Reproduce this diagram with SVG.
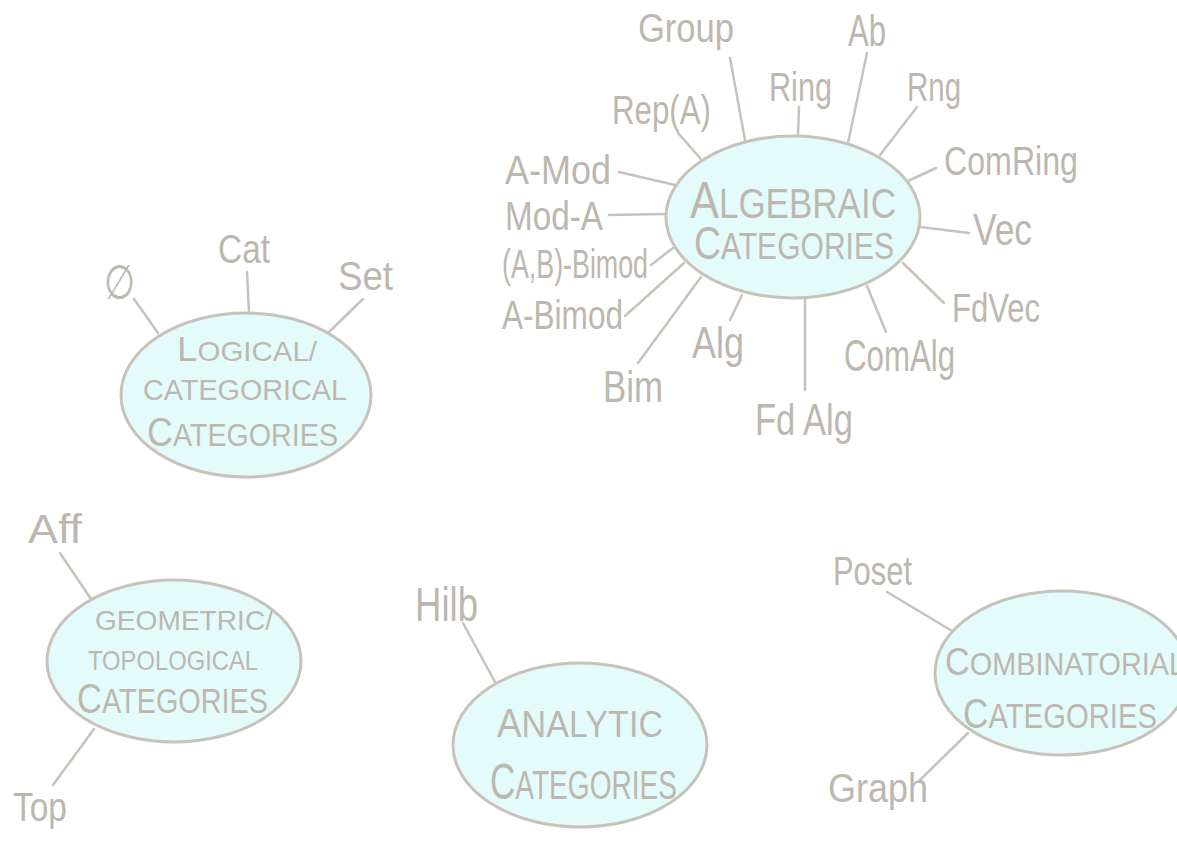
<svg xmlns="http://www.w3.org/2000/svg" width="1177" height="847" viewBox="0 0 1177 847">
  <style>
    .bg { fill: #ffffff; }
    .hub { fill: #e3fcfb; stroke: #c7c3bb; stroke-width: 3; }
    .edge { stroke: #c7c3bb; stroke-width: 2.5; stroke-linecap: round; fill: none; }
    .leaf { font-family: "Liberation Sans", "DejaVu Sans", sans-serif; font-size: 41px; fill: #bcb7af; }
    .cap { font-family: "Liberation Sans", "DejaVu Sans", sans-serif; font-size: 30px; fill: #bcb7af; }
  </style>
  <rect class="bg" x="0" y="0" width="1177" height="847"/>

  <!-- connectors: spokes from each hub to its member categories -->
  <g id="connectors">
    <!-- algebraic -->
    <line class="edge" x1="730" y1="58" x2="745" y2="140"/>
    <line class="edge" x1="799" y1="107" x2="798" y2="135"/>
    <line class="edge" x1="867" y1="53" x2="848" y2="143"/>
    <line class="edge" x1="917" y1="107" x2="880" y2="155"/>
    <line class="edge" x1="936" y1="168" x2="908" y2="181"/>
    <line class="edge" x1="969" y1="233" x2="920" y2="227"/>
    <line class="edge" x1="944" y1="303" x2="903" y2="263"/>
    <line class="edge" x1="886" y1="332" x2="867" y2="286"/>
    <line class="edge" x1="805" y1="390" x2="805" y2="299"/>
    <line class="edge" x1="730" y1="320" x2="742" y2="295"/>
    <line class="edge" x1="638" y1="363" x2="701" y2="277"/>
    <line class="edge" x1="625" y1="316" x2="684" y2="263"/>
    <line class="edge" x1="651" y1="265" x2="673" y2="248"/>
    <line class="edge" x1="609" y1="215" x2="666" y2="214"/>
    <line class="edge" x1="619" y1="172" x2="675" y2="185"/>
    <line class="edge" x1="678" y1="133" x2="701" y2="159"/>
    <!-- logical / categorical -->
    <line class="edge" x1="134" y1="299" x2="158" y2="333"/>
    <line class="edge" x1="247" y1="272" x2="249" y2="313"/>
    <line class="edge" x1="363" y1="299" x2="329" y2="332"/>
    <!-- geometric / topological -->
    <line class="edge" x1="60" y1="553" x2="91" y2="599"/>
    <line class="edge" x1="94" y1="729" x2="53" y2="785"/>
    <!-- analytic -->
    <line class="edge" x1="463" y1="623" x2="495" y2="682"/>
    <!-- combinatorial -->
    <line class="edge" x1="887" y1="592" x2="952" y2="631"/>
    <line class="edge" x1="920" y1="780" x2="968" y2="733"/>
  </g>

  <g id="algebraic">
    <ellipse class="hub" cx="793" cy="217" rx="127" ry="81"/>
    <text class="cap" x="690" y="218" textLength="206" lengthAdjust="spacingAndGlyphs" style="font-size:42px"><tspan style="font-size:52px">A</tspan>LGEBRAIC</text>
    <text class="cap" x="694" y="259" textLength="200" lengthAdjust="spacingAndGlyphs" style="font-size:37px"><tspan style="font-size:46px">C</tspan>ATEGORIES</text>
  </g>
  <g id="alg-leaves">
    <text class="leaf" x="638" y="42" textLength="96" lengthAdjust="spacingAndGlyphs">Group</text>
    <text class="leaf" x="848" y="46" textLength="38" lengthAdjust="spacingAndGlyphs" style="font-size:44px">Ab</text>
    <text class="leaf" x="769" y="101" textLength="63" lengthAdjust="spacingAndGlyphs">Ring</text>
    <text class="leaf" x="907" y="101" textLength="54" lengthAdjust="spacingAndGlyphs">Rng</text>
    <text class="leaf" x="612" y="124" textLength="99" lengthAdjust="spacingAndGlyphs">Rep(A)</text>
    <text class="leaf" x="944" y="175" textLength="134" lengthAdjust="spacingAndGlyphs">ComRing</text>
    <text class="leaf" x="505" y="184" textLength="106" lengthAdjust="spacingAndGlyphs">A-Mod</text>
    <text class="leaf" x="505" y="230" textLength="98" lengthAdjust="spacingAndGlyphs">Mod-A</text>
    <text class="leaf" x="973" y="245" textLength="59" lengthAdjust="spacingAndGlyphs" style="font-size:44px">Vec</text>
    <text class="leaf" x="502" y="278" textLength="146" lengthAdjust="spacingAndGlyphs">(A,B)-Bimod</text>
    <text class="leaf" x="502" y="329" textLength="121" lengthAdjust="spacingAndGlyphs">A-Bimod</text>
    <text class="leaf" x="952" y="322" textLength="88" lengthAdjust="spacingAndGlyphs">FdVec</text>
    <text class="leaf" x="844" y="371" textLength="111" lengthAdjust="spacingAndGlyphs" style="font-size:44px">ComAlg</text>
    <text class="leaf" x="692" y="358" textLength="52" lengthAdjust="spacingAndGlyphs" style="font-size:44px">Alg</text>
    <text class="leaf" x="603" y="402" textLength="60" lengthAdjust="spacingAndGlyphs" style="font-size:44px">Bim</text>
    <text class="leaf" x="755" y="435" textLength="98" lengthAdjust="spacingAndGlyphs" style="font-size:44px">Fd Alg</text>
  </g>

  <g id="logical">
    <ellipse class="hub" cx="246" cy="395" rx="125" ry="82"/>
    <text class="cap" x="177" y="361" textLength="140" lengthAdjust="spacingAndGlyphs" style="font-size:28px"><tspan style="font-size:35px">L</tspan>OGICAL/</text>
    <text class="cap" x="143" y="400" textLength="204" lengthAdjust="spacingAndGlyphs" style="font-size:30px">CATEGORICAL</text>
    <text class="cap" x="147" y="446" textLength="191" lengthAdjust="spacingAndGlyphs" style="font-size:32px"><tspan style="font-size:40px">C</tspan>ATEGORIES</text>
  </g>
  <g id="logical-leaves">
    <text class="leaf" x="104" y="299" textLength="31" lengthAdjust="spacingAndGlyphs" style="font-size:48px">∅</text>
    <text class="leaf" x="218" y="263" textLength="52" lengthAdjust="spacingAndGlyphs">Cat</text>
    <text class="leaf" x="338" y="290" textLength="55" lengthAdjust="spacingAndGlyphs">Set</text>
  </g>

  <g id="geometric">
    <ellipse class="hub" cx="174" cy="661" rx="127" ry="81"/>
    <text class="cap" x="95" y="630" textLength="178" lengthAdjust="spacingAndGlyphs" style="font-size:28px">GEOMETRIC/</text>
    <text class="cap" x="88" y="670" textLength="170" lengthAdjust="spacingAndGlyphs" style="font-size:28px">TOPOLOGICAL</text>
    <text class="cap" x="77" y="713" textLength="191" lengthAdjust="spacingAndGlyphs" style="font-size:35px"><tspan style="font-size:42px">C</tspan>ATEGORIES</text>
  </g>
  <g id="geometric-leaves">
    <text class="leaf" x="28" y="543" textLength="54" lengthAdjust="spacingAndGlyphs">Aff</text>
    <text class="leaf" x="13" y="821" textLength="54" lengthAdjust="spacingAndGlyphs">Top</text>
  </g>

  <g id="analytic">
    <ellipse class="hub" cx="580" cy="745" rx="127" ry="82"/>
    <text class="cap" x="497" y="737" textLength="166" lengthAdjust="spacingAndGlyphs" style="font-size:37px"><tspan style="font-size:40px">A</tspan>NALYTIC</text>
    <text class="cap" x="490" y="799" textLength="187" lengthAdjust="spacingAndGlyphs" style="font-size:40px"><tspan style="font-size:50px">C</tspan>ATEGORIES</text>
  </g>
  <g id="analytic-leaves">
    <text class="leaf" x="415" y="621" textLength="63" lengthAdjust="spacingAndGlyphs" style="font-size:48px">Hilb</text>
  </g>

  <g id="combinatorial">
    <ellipse class="hub" cx="1062" cy="673" rx="127" ry="82"/>
    <text class="cap" x="945" y="675" textLength="240" lengthAdjust="spacingAndGlyphs" style="font-size:32px"><tspan style="font-size:38px">C</tspan>OMBINATORIAL</text>
    <text class="cap" x="963" y="728" textLength="194" lengthAdjust="spacingAndGlyphs" style="font-size:35px"><tspan style="font-size:42px">C</tspan>ATEGORIES</text>
  </g>
  <g id="combinatorial-leaves">
    <text class="leaf" x="833" y="585" textLength="79" lengthAdjust="spacingAndGlyphs">Poset</text>
    <text class="leaf" x="828" y="802" textLength="100" lengthAdjust="spacingAndGlyphs">Graph</text>
  </g>
</svg>
